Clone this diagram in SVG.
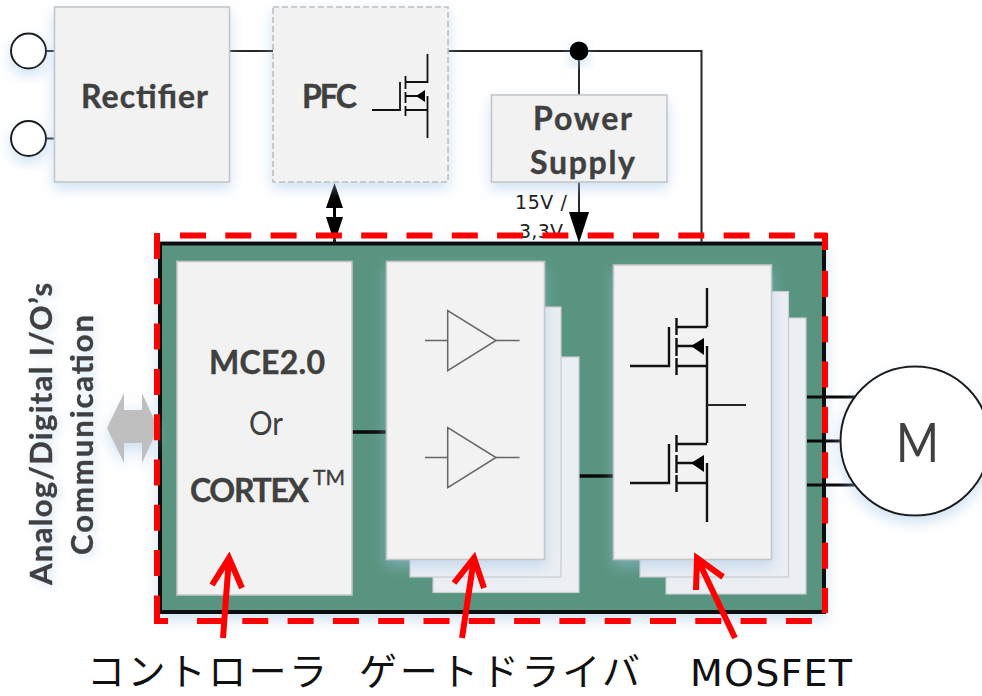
<svg xmlns="http://www.w3.org/2000/svg" width="982" height="696" viewBox="0 0 982 696">
<style>
.box{fill:#f2f2f2;stroke:#c4c6c8;stroke-width:1.6}
.back{fill:#ebeef3;stroke:#c9ced3;stroke-width:1.2}
.dash{stroke-dasharray:6 3;stroke:#bfbfbf}
.t{font-family:Lato,"Liberation Sans",sans-serif;fill:#404040;stroke:#404040;stroke-width:.4;font-weight:700;text-anchor:middle}
.wire{fill:none;stroke:#262626;stroke-width:2}
.heavy{fill:none;stroke:#0a0a0a;stroke-width:3.5}
.fet{fill:none;stroke:#111;stroke-width:2.4}
.buf{fill:none;stroke:#666;stroke-width:1.5}
.red{fill:none;stroke:#ff0000;stroke-width:6}
.jp{font-family:"Noto Sans CJK JP",sans-serif;font-size:38px;fill:#111}
.sm{font-family:"DejaVu Sans",sans-serif;font-size:19px;fill:#222;text-anchor:middle}
</style>
<defs>
<filter id="sh" x="-30%" y="-30%" width="160%" height="170%"><feDropShadow dx="0" dy="6" stdDeviation="7" flood-color="#9dc3e6" flood-opacity="0.5"/></filter>
<filter id="ts" x="-30%" y="-30%" width="160%" height="160%"><feDropShadow dx="-2" dy="3" stdDeviation="4" flood-color="#9dc3e6" flood-opacity="0.45"/></filter>
<g id="fetA">
<path class="fet" d="M630 366H669V327M676.500 318V335M676.500 338V356M676.500 358V375M677 327H707M677 366H707M677 346H695"/>
<polygon points="691,346 704,338 704,355" fill="#000"/>
</g>
<g id="bufA">
<polygon class="buf" points="447.700,310.700 447.700,370.700 496,340.500"/>
<path class="buf" d="M425 340.500H447.700M496 340.500H519.500"/>
</g>
</defs>

<g id="connectors">
<path class="wire" d="M46 51H54M46 138.500H54M230 51H273M448 51H701.500V243M579 51V95"/>
<circle cx="579" cy="51" r="9.500" fill="#000" filter="url(#sh)"/>
<path class="wire" d="M579 182V215"/>
<polygon points="569,212 589,212 579,243" fill="#000"/>
<polygon points="334.500,183 326,208 343,208" fill="#000"/>
<polygon points="326,217 343,217 334.500,243" fill="#000"/>
<path d="M334.500 205V220M334.500 240V246" stroke="#000" stroke-width="3" fill="none"/>
</g>

<g id="term1"><circle cx="28.500" cy="51" r="17.500" fill="#fff" stroke="#1a1a1a" stroke-width="2" filter="url(#sh)"/></g>
<g id="term2"><circle cx="28.500" cy="138.500" r="17.500" fill="#fff" stroke="#1a1a1a" stroke-width="2" filter="url(#sh)"/></g>

<g id="rectifier">
<rect class="box" x="54.500" y="7" width="175" height="175" filter="url(#sh)"/>
<text class="t" x="144.500" y="108" font-size="32" textLength="127" lengthAdjust="spacing">Rectifier</text>
</g>

<g id="pfc">
<rect class="box dash" x="273" y="7" width="175" height="175" filter="url(#sh)"/>
<text class="t" x="329.500" y="108" font-size="32" textLength="55" lengthAdjust="spacing">PFC</text>
<path class="fet" style="stroke-width:1.8" d="M372 110H400V82M405.500 76V89M405.500 92V103M405.500 106V116M405.500 82H427.500V54M405.500 110H427.500M405.500 96H420M427.500 96V138"/>
<polygon points="416,96 425,90 425,102" fill="#000"/>
</g>

<g id="power-supply">
<rect class="box" x="491.500" y="95" width="175.500" height="87" filter="url(#sh)"/>
<text class="t" x="582.500" y="130" font-size="32" textLength="99" lengthAdjust="spacing">Power</text>
<text class="t" x="582.500" y="174" font-size="32" textLength="105" lengthAdjust="spacing">Supply</text>
</g>

<g id="voltage-label">
<text class="sm" x="541" y="209" textLength="52" lengthAdjust="spacing">15V /</text>
<text class="sm" x="541" y="238" textLength="44" lengthAdjust="spacing">3,3V</text>
</g>

<g id="board">
<rect x="160" y="243.500" width="664" height="368.500" fill="#59947f" stroke="#0a0a0a" stroke-width="4" filter="url(#sh)"/>
</g>

<g id="io-arrow">
<polygon points="107,428 124,393 124,410 142,410 142,393 158,428 142,463 142,443 124,443 124,463" fill="#bfbfbf" filter="url(#sh)"/>
</g>

<g id="io-label">
<text class="t" transform="translate(52 434) rotate(-90)" font-size="31" textLength="302" lengthAdjust="spacing" filter="url(#ts)">Analog/Digital I/O’s</text>
<text class="t" transform="translate(93 435) rotate(-90)" font-size="31" textLength="240" lengthAdjust="spacing" filter="url(#ts)">Communication</text>
</g>

<g id="board-links">
<path class="heavy" d="M352 432H386M579 476H613"/>
<path class="heavy" style="stroke-width:3" d="M807 397H860M807 441H860M807 485H860"/>
</g>

<g id="controller">
<rect class="box" x="177" y="261.500" width="175" height="333.500"/>
<text class="t" x="267" y="374" font-size="32" textLength="116" lengthAdjust="spacing">MCE2.0</text>
<text class="t" x="266" y="435" font-size="32" textLength="34" lengthAdjust="spacingAndGlyphs" style="font-weight:400;stroke:none">Or</text>
<text class="t" x="249.500" y="502" font-size="32" textLength="119" lengthAdjust="spacing">CORTEX</text>
<text class="t" x="329" y="485" font-size="21" textLength="32" lengthAdjust="spacing" style="font-weight:400">TM</text>
</g>

<g id="gate-driver">
<rect class="back" x="433" y="357" width="146" height="235.500"/>
<rect class="back" x="410" y="307" width="151" height="270"/>
<rect class="box" x="386.500" y="261.500" width="158" height="298" filter="url(#sh)"/>
<use href="#bufA"/>
<use href="#bufA" y="117"/>
</g>

<g id="mosfet">
<rect class="back" x="666" y="318" width="140" height="276"/>
<rect class="back" x="640" y="291.500" width="148.500" height="285.500"/>
<rect class="box" x="613.500" y="265" width="158" height="294.500" filter="url(#sh)"/>
<use href="#fetA"/>
<use href="#fetA" y="117"/>
<path class="fet" d="M707 288V327M707 346V443M707 463V522"/>
<path class="wire" d="M707 405H746"/>
</g>

<g id="motor">
<circle cx="915" cy="441" r="74.500" fill="#fff" stroke="#1a1a1a" stroke-width="2" filter="url(#sh)"/>
<text x="917.500" y="462" font-family="Lato,'Liberation Sans',sans-serif" font-size="54" fill="#404040" text-anchor="middle" textLength="43" lengthAdjust="spacingAndGlyphs">M</text>
</g>

<g id="highlight">
<path class="red" style="stroke-dasharray:26 19.300" d="M180 235.500H827M825 271V613M197 621H812M157 233V621"/>
<path class="red" d="M825 233V250M154 621H168"/>
</g>

<g id="callouts">
<path class="red" d="M223 638L229 558M212 585L229 558L242 588"/>
<path class="red" d="M462 638L474 558M454 583L474 558L484 588"/>
<path class="red" d="M735 638L697 558M723 577L697 558L696 590"/>
<text class="jp" x="87" y="685" textLength="240" lengthAdjust="spacing">コントローラ</text>
<text class="jp" x="359" y="685" textLength="281" lengthAdjust="spacing">ゲートドライバ</text>
<text x="690" y="686" font-family="'DejaVu Sans',sans-serif" font-size="38" fill="#111" textLength="162" lengthAdjust="spacing">MOSFET</text>
</g>
</svg>
